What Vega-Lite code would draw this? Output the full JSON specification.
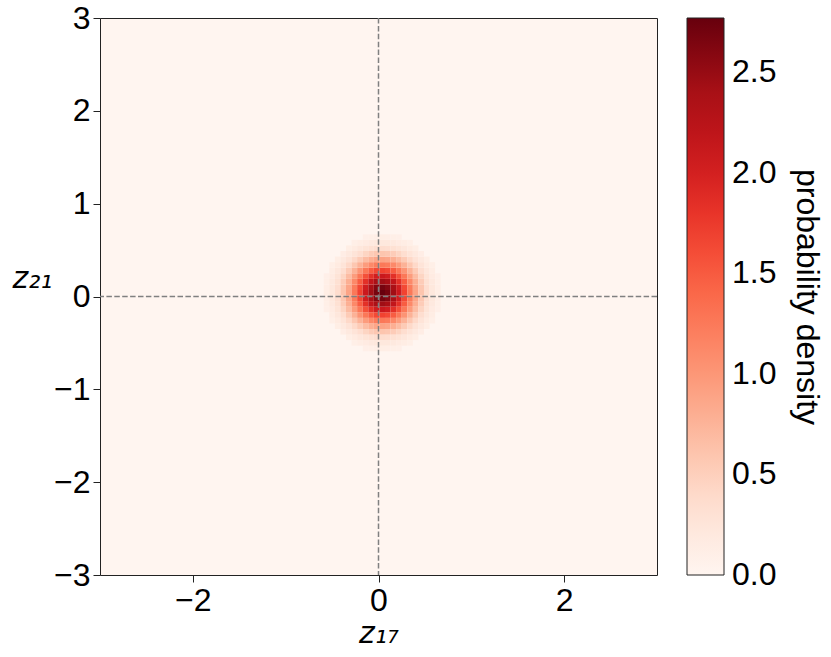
{
  "$schema": "https://vega.github.io/schema/vega-lite/v6.json",
  "width": 557,
  "height": 557,
  "autosize": {"type": "none"},
  "padding": {"left": 100, "top": 18, "right": 174, "bottom": 82},
  "background": "white",
  "config": {
    "font": "Liberation Sans",
    "view": {"fill": "#fff5f0", "stroke": "#222222", "strokeWidth": 1},
    "axis": {
      "grid": false,
      "domain": false,
      "labelFontSize": 32,
      "labelColor": "black",
      "tickColor": "#222222",
      "tickSize": 7,
      "tickWidth": 1,
      "labelPadding": 3,
      "titleFont": "DejaVu Sans",
      "titleFontSize": 30,
      "titleFontWeight": "normal",
      "titleFontStyle": "italic",
      "titleColor": "black"
    }
  },
  "layer": [
    {
      "data": {"values": [
{"x0":-0.59,"x1":-0.53,"y0":-0.17,"y1":-0.11,"d":0.092},
{"x0":-0.59,"x1":-0.53,"y0":-0.11,"y1":-0.05,"d":0.107},
{"x0":-0.59,"x1":-0.53,"y0":-0.05,"y1":0.01,"d":0.118},
{"x0":-0.59,"x1":-0.53,"y0":0.01,"y1":0.07,"d":0.122},
{"x0":-0.59,"x1":-0.53,"y0":0.07,"y1":0.13,"d":0.118},
{"x0":-0.59,"x1":-0.53,"y0":0.13,"y1":0.19,"d":0.107},
{"x0":-0.59,"x1":-0.53,"y0":0.19,"y1":0.25,"d":0.092},
{"x0":-0.53,"x1":-0.47,"y0":-0.29,"y1":-0.23,"d":0.101},
{"x0":-0.53,"x1":-0.47,"y0":-0.23,"y1":-0.17,"d":0.134},
{"x0":-0.53,"x1":-0.47,"y0":-0.17,"y1":-0.11,"d":0.166},
{"x0":-0.53,"x1":-0.47,"y0":-0.11,"y1":-0.05,"d":0.195},
{"x0":-0.53,"x1":-0.47,"y0":-0.05,"y1":0.01,"d":0.214},
{"x0":-0.53,"x1":-0.47,"y0":0.01,"y1":0.07,"d":0.220},
{"x0":-0.53,"x1":-0.47,"y0":0.07,"y1":0.13,"d":0.214},
{"x0":-0.53,"x1":-0.47,"y0":0.13,"y1":0.19,"d":0.195},
{"x0":-0.53,"x1":-0.47,"y0":0.19,"y1":0.25,"d":0.166},
{"x0":-0.53,"x1":-0.47,"y0":0.25,"y1":0.31,"d":0.134},
{"x0":-0.53,"x1":-0.47,"y0":0.31,"y1":0.37,"d":0.101},
{"x0":-0.47,"x1":-0.41,"y0":-0.35,"y1":-0.29,"d":0.122},
{"x0":-0.47,"x1":-0.41,"y0":-0.29,"y1":-0.23,"d":0.172},
{"x0":-0.47,"x1":-0.41,"y0":-0.23,"y1":-0.17,"d":0.227},
{"x0":-0.47,"x1":-0.41,"y0":-0.17,"y1":-0.11,"d":0.283},
{"x0":-0.47,"x1":-0.41,"y0":-0.11,"y1":-0.05,"d":0.331},
{"x0":-0.47,"x1":-0.41,"y0":-0.05,"y1":0.01,"d":0.363},
{"x0":-0.47,"x1":-0.41,"y0":0.01,"y1":0.07,"d":0.375},
{"x0":-0.47,"x1":-0.41,"y0":0.07,"y1":0.13,"d":0.363},
{"x0":-0.47,"x1":-0.41,"y0":0.13,"y1":0.19,"d":0.331},
{"x0":-0.47,"x1":-0.41,"y0":0.19,"y1":0.25,"d":0.283},
{"x0":-0.47,"x1":-0.41,"y0":0.25,"y1":0.31,"d":0.227},
{"x0":-0.47,"x1":-0.41,"y0":0.31,"y1":0.37,"d":0.172},
{"x0":-0.47,"x1":-0.41,"y0":0.37,"y1":0.43,"d":0.122},
{"x0":-0.41,"x1":-0.35,"y0":-0.41,"y1":-0.35,"d":0.130},
{"x0":-0.41,"x1":-0.35,"y0":-0.35,"y1":-0.29,"d":0.194},
{"x0":-0.41,"x1":-0.35,"y0":-0.29,"y1":-0.23,"d":0.274},
{"x0":-0.41,"x1":-0.35,"y0":-0.23,"y1":-0.17,"d":0.363},
{"x0":-0.41,"x1":-0.35,"y0":-0.17,"y1":-0.11,"d":0.452},
{"x0":-0.41,"x1":-0.35,"y0":-0.11,"y1":-0.05,"d":0.529},
{"x0":-0.41,"x1":-0.35,"y0":-0.05,"y1":0.01,"d":0.581},
{"x0":-0.41,"x1":-0.35,"y0":0.01,"y1":0.07,"d":0.599},
{"x0":-0.41,"x1":-0.35,"y0":0.07,"y1":0.13,"d":0.581},
{"x0":-0.41,"x1":-0.35,"y0":0.13,"y1":0.19,"d":0.529},
{"x0":-0.41,"x1":-0.35,"y0":0.19,"y1":0.25,"d":0.452},
{"x0":-0.41,"x1":-0.35,"y0":0.25,"y1":0.31,"d":0.363},
{"x0":-0.41,"x1":-0.35,"y0":0.31,"y1":0.37,"d":0.274},
{"x0":-0.41,"x1":-0.35,"y0":0.37,"y1":0.43,"d":0.194},
{"x0":-0.41,"x1":-0.35,"y0":0.43,"y1":0.49,"d":0.130},
{"x0":-0.35,"x1":-0.29,"y0":-0.47,"y1":-0.41,"d":0.122},
{"x0":-0.35,"x1":-0.29,"y0":-0.41,"y1":-0.35,"d":0.194},
{"x0":-0.35,"x1":-0.29,"y0":-0.35,"y1":-0.29,"d":0.292},
{"x0":-0.35,"x1":-0.29,"y0":-0.29,"y1":-0.23,"d":0.412},
{"x0":-0.35,"x1":-0.29,"y0":-0.23,"y1":-0.17,"d":0.545},
{"x0":-0.35,"x1":-0.29,"y0":-0.17,"y1":-0.11,"d":0.679},
{"x0":-0.35,"x1":-0.29,"y0":-0.11,"y1":-0.05,"d":0.794},
{"x0":-0.35,"x1":-0.29,"y0":-0.05,"y1":0.01,"d":0.872},
{"x0":-0.35,"x1":-0.29,"y0":0.01,"y1":0.07,"d":0.899},
{"x0":-0.35,"x1":-0.29,"y0":0.07,"y1":0.13,"d":0.872},
{"x0":-0.35,"x1":-0.29,"y0":0.13,"y1":0.19,"d":0.794},
{"x0":-0.35,"x1":-0.29,"y0":0.19,"y1":0.25,"d":0.679},
{"x0":-0.35,"x1":-0.29,"y0":0.25,"y1":0.31,"d":0.545},
{"x0":-0.35,"x1":-0.29,"y0":0.31,"y1":0.37,"d":0.412},
{"x0":-0.35,"x1":-0.29,"y0":0.37,"y1":0.43,"d":0.292},
{"x0":-0.35,"x1":-0.29,"y0":0.43,"y1":0.49,"d":0.194},
{"x0":-0.35,"x1":-0.29,"y0":0.49,"y1":0.55,"d":0.122},
{"x0":-0.29,"x1":-0.23,"y0":-0.53,"y1":-0.47,"d":0.101},
{"x0":-0.29,"x1":-0.23,"y0":-0.47,"y1":-0.41,"d":0.172},
{"x0":-0.29,"x1":-0.23,"y0":-0.41,"y1":-0.35,"d":0.274},
{"x0":-0.29,"x1":-0.23,"y0":-0.35,"y1":-0.29,"d":0.412},
{"x0":-0.29,"x1":-0.23,"y0":-0.29,"y1":-0.23,"d":0.580},
{"x0":-0.29,"x1":-0.23,"y0":-0.23,"y1":-0.17,"d":0.769},
{"x0":-0.29,"x1":-0.23,"y0":-0.17,"y1":-0.11,"d":0.957},
{"x0":-0.29,"x1":-0.23,"y0":-0.11,"y1":-0.05,"d":1.119},
{"x0":-0.29,"x1":-0.23,"y0":-0.05,"y1":0.01,"d":1.229},
{"x0":-0.29,"x1":-0.23,"y0":0.01,"y1":0.07,"d":1.268},
{"x0":-0.29,"x1":-0.23,"y0":0.07,"y1":0.13,"d":1.229},
{"x0":-0.29,"x1":-0.23,"y0":0.13,"y1":0.19,"d":1.119},
{"x0":-0.29,"x1":-0.23,"y0":0.19,"y1":0.25,"d":0.957},
{"x0":-0.29,"x1":-0.23,"y0":0.25,"y1":0.31,"d":0.769},
{"x0":-0.29,"x1":-0.23,"y0":0.31,"y1":0.37,"d":0.580},
{"x0":-0.29,"x1":-0.23,"y0":0.37,"y1":0.43,"d":0.412},
{"x0":-0.29,"x1":-0.23,"y0":0.43,"y1":0.49,"d":0.274},
{"x0":-0.29,"x1":-0.23,"y0":0.49,"y1":0.55,"d":0.172},
{"x0":-0.29,"x1":-0.23,"y0":0.55,"y1":0.61,"d":0.101},
{"x0":-0.23,"x1":-0.17,"y0":-0.53,"y1":-0.47,"d":0.134},
{"x0":-0.23,"x1":-0.17,"y0":-0.47,"y1":-0.41,"d":0.227},
{"x0":-0.23,"x1":-0.17,"y0":-0.41,"y1":-0.35,"d":0.363},
{"x0":-0.23,"x1":-0.17,"y0":-0.35,"y1":-0.29,"d":0.545},
{"x0":-0.23,"x1":-0.17,"y0":-0.29,"y1":-0.23,"d":0.769},
{"x0":-0.23,"x1":-0.17,"y0":-0.23,"y1":-0.17,"d":1.019},
{"x0":-0.23,"x1":-0.17,"y0":-0.17,"y1":-0.11,"d":1.268},
{"x0":-0.23,"x1":-0.17,"y0":-0.11,"y1":-0.05,"d":1.483},
{"x0":-0.23,"x1":-0.17,"y0":-0.05,"y1":0.01,"d":1.628},
{"x0":-0.23,"x1":-0.17,"y0":0.01,"y1":0.07,"d":1.680},
{"x0":-0.23,"x1":-0.17,"y0":0.07,"y1":0.13,"d":1.628},
{"x0":-0.23,"x1":-0.17,"y0":0.13,"y1":0.19,"d":1.483},
{"x0":-0.23,"x1":-0.17,"y0":0.19,"y1":0.25,"d":1.268},
{"x0":-0.23,"x1":-0.17,"y0":0.25,"y1":0.31,"d":1.019},
{"x0":-0.23,"x1":-0.17,"y0":0.31,"y1":0.37,"d":0.769},
{"x0":-0.23,"x1":-0.17,"y0":0.37,"y1":0.43,"d":0.545},
{"x0":-0.23,"x1":-0.17,"y0":0.43,"y1":0.49,"d":0.363},
{"x0":-0.23,"x1":-0.17,"y0":0.49,"y1":0.55,"d":0.227},
{"x0":-0.23,"x1":-0.17,"y0":0.55,"y1":0.61,"d":0.134},
{"x0":-0.17,"x1":-0.11,"y0":-0.59,"y1":-0.53,"d":0.092},
{"x0":-0.17,"x1":-0.11,"y0":-0.53,"y1":-0.47,"d":0.166},
{"x0":-0.17,"x1":-0.11,"y0":-0.47,"y1":-0.41,"d":0.283},
{"x0":-0.17,"x1":-0.11,"y0":-0.41,"y1":-0.35,"d":0.452},
{"x0":-0.17,"x1":-0.11,"y0":-0.35,"y1":-0.29,"d":0.679},
{"x0":-0.17,"x1":-0.11,"y0":-0.29,"y1":-0.23,"d":0.957},
{"x0":-0.17,"x1":-0.11,"y0":-0.23,"y1":-0.17,"d":1.268},
{"x0":-0.17,"x1":-0.11,"y0":-0.17,"y1":-0.11,"d":1.578},
{"x0":-0.17,"x1":-0.11,"y0":-0.11,"y1":-0.05,"d":1.845},
{"x0":-0.17,"x1":-0.11,"y0":-0.05,"y1":0.01,"d":2.027},
{"x0":-0.17,"x1":-0.11,"y0":0.01,"y1":0.07,"d":2.091},
{"x0":-0.17,"x1":-0.11,"y0":0.07,"y1":0.13,"d":2.027},
{"x0":-0.17,"x1":-0.11,"y0":0.13,"y1":0.19,"d":1.845},
{"x0":-0.17,"x1":-0.11,"y0":0.19,"y1":0.25,"d":1.578},
{"x0":-0.17,"x1":-0.11,"y0":0.25,"y1":0.31,"d":1.268},
{"x0":-0.17,"x1":-0.11,"y0":0.31,"y1":0.37,"d":0.957},
{"x0":-0.17,"x1":-0.11,"y0":0.37,"y1":0.43,"d":0.679},
{"x0":-0.17,"x1":-0.11,"y0":0.43,"y1":0.49,"d":0.452},
{"x0":-0.17,"x1":-0.11,"y0":0.49,"y1":0.55,"d":0.283},
{"x0":-0.17,"x1":-0.11,"y0":0.55,"y1":0.61,"d":0.166},
{"x0":-0.17,"x1":-0.11,"y0":0.61,"y1":0.67,"d":0.092},
{"x0":-0.11,"x1":-0.05,"y0":-0.59,"y1":-0.53,"d":0.107},
{"x0":-0.11,"x1":-0.05,"y0":-0.53,"y1":-0.47,"d":0.195},
{"x0":-0.11,"x1":-0.05,"y0":-0.47,"y1":-0.41,"d":0.331},
{"x0":-0.11,"x1":-0.05,"y0":-0.41,"y1":-0.35,"d":0.529},
{"x0":-0.11,"x1":-0.05,"y0":-0.35,"y1":-0.29,"d":0.794},
{"x0":-0.11,"x1":-0.05,"y0":-0.29,"y1":-0.23,"d":1.119},
{"x0":-0.11,"x1":-0.05,"y0":-0.23,"y1":-0.17,"d":1.483},
{"x0":-0.11,"x1":-0.05,"y0":-0.17,"y1":-0.11,"d":1.845},
{"x0":-0.11,"x1":-0.05,"y0":-0.11,"y1":-0.05,"d":2.158},
{"x0":-0.11,"x1":-0.05,"y0":-0.05,"y1":0.01,"d":2.370},
{"x0":-0.11,"x1":-0.05,"y0":0.01,"y1":0.07,"d":2.445},
{"x0":-0.11,"x1":-0.05,"y0":0.07,"y1":0.13,"d":2.370},
{"x0":-0.11,"x1":-0.05,"y0":0.13,"y1":0.19,"d":2.158},
{"x0":-0.11,"x1":-0.05,"y0":0.19,"y1":0.25,"d":1.845},
{"x0":-0.11,"x1":-0.05,"y0":0.25,"y1":0.31,"d":1.483},
{"x0":-0.11,"x1":-0.05,"y0":0.31,"y1":0.37,"d":1.119},
{"x0":-0.11,"x1":-0.05,"y0":0.37,"y1":0.43,"d":0.794},
{"x0":-0.11,"x1":-0.05,"y0":0.43,"y1":0.49,"d":0.529},
{"x0":-0.11,"x1":-0.05,"y0":0.49,"y1":0.55,"d":0.331},
{"x0":-0.11,"x1":-0.05,"y0":0.55,"y1":0.61,"d":0.195},
{"x0":-0.11,"x1":-0.05,"y0":0.61,"y1":0.67,"d":0.107},
{"x0":-0.05,"x1":0.01,"y0":-0.59,"y1":-0.53,"d":0.118},
{"x0":-0.05,"x1":0.01,"y0":-0.53,"y1":-0.47,"d":0.214},
{"x0":-0.05,"x1":0.01,"y0":-0.47,"y1":-0.41,"d":0.363},
{"x0":-0.05,"x1":0.01,"y0":-0.41,"y1":-0.35,"d":0.581},
{"x0":-0.05,"x1":0.01,"y0":-0.35,"y1":-0.29,"d":0.872},
{"x0":-0.05,"x1":0.01,"y0":-0.29,"y1":-0.23,"d":1.229},
{"x0":-0.05,"x1":0.01,"y0":-0.23,"y1":-0.17,"d":1.628},
{"x0":-0.05,"x1":0.01,"y0":-0.17,"y1":-0.11,"d":2.027},
{"x0":-0.05,"x1":0.01,"y0":-0.11,"y1":-0.05,"d":2.370},
{"x0":-0.05,"x1":0.01,"y0":-0.05,"y1":0.01,"d":2.602},
{"x0":-0.05,"x1":0.01,"y0":0.01,"y1":0.07,"d":2.685},
{"x0":-0.05,"x1":0.01,"y0":0.07,"y1":0.13,"d":2.602},
{"x0":-0.05,"x1":0.01,"y0":0.13,"y1":0.19,"d":2.370},
{"x0":-0.05,"x1":0.01,"y0":0.19,"y1":0.25,"d":2.027},
{"x0":-0.05,"x1":0.01,"y0":0.25,"y1":0.31,"d":1.628},
{"x0":-0.05,"x1":0.01,"y0":0.31,"y1":0.37,"d":1.229},
{"x0":-0.05,"x1":0.01,"y0":0.37,"y1":0.43,"d":0.872},
{"x0":-0.05,"x1":0.01,"y0":0.43,"y1":0.49,"d":0.581},
{"x0":-0.05,"x1":0.01,"y0":0.49,"y1":0.55,"d":0.363},
{"x0":-0.05,"x1":0.01,"y0":0.55,"y1":0.61,"d":0.214},
{"x0":-0.05,"x1":0.01,"y0":0.61,"y1":0.67,"d":0.118},
{"x0":0.01,"x1":0.07,"y0":-0.59,"y1":-0.53,"d":0.122},
{"x0":0.01,"x1":0.07,"y0":-0.53,"y1":-0.47,"d":0.220},
{"x0":0.01,"x1":0.07,"y0":-0.47,"y1":-0.41,"d":0.375},
{"x0":0.01,"x1":0.07,"y0":-0.41,"y1":-0.35,"d":0.599},
{"x0":0.01,"x1":0.07,"y0":-0.35,"y1":-0.29,"d":0.899},
{"x0":0.01,"x1":0.07,"y0":-0.29,"y1":-0.23,"d":1.268},
{"x0":0.01,"x1":0.07,"y0":-0.23,"y1":-0.17,"d":1.680},
{"x0":0.01,"x1":0.07,"y0":-0.17,"y1":-0.11,"d":2.091},
{"x0":0.01,"x1":0.07,"y0":-0.11,"y1":-0.05,"d":2.445},
{"x0":0.01,"x1":0.07,"y0":-0.05,"y1":0.01,"d":2.685},
{"x0":0.01,"x1":0.07,"y0":0.01,"y1":0.07,"d":2.770},
{"x0":0.01,"x1":0.07,"y0":0.07,"y1":0.13,"d":2.685},
{"x0":0.01,"x1":0.07,"y0":0.13,"y1":0.19,"d":2.445},
{"x0":0.01,"x1":0.07,"y0":0.19,"y1":0.25,"d":2.091},
{"x0":0.01,"x1":0.07,"y0":0.25,"y1":0.31,"d":1.680},
{"x0":0.01,"x1":0.07,"y0":0.31,"y1":0.37,"d":1.268},
{"x0":0.01,"x1":0.07,"y0":0.37,"y1":0.43,"d":0.899},
{"x0":0.01,"x1":0.07,"y0":0.43,"y1":0.49,"d":0.599},
{"x0":0.01,"x1":0.07,"y0":0.49,"y1":0.55,"d":0.375},
{"x0":0.01,"x1":0.07,"y0":0.55,"y1":0.61,"d":0.220},
{"x0":0.01,"x1":0.07,"y0":0.61,"y1":0.67,"d":0.122},
{"x0":0.07,"x1":0.13,"y0":-0.59,"y1":-0.53,"d":0.118},
{"x0":0.07,"x1":0.13,"y0":-0.53,"y1":-0.47,"d":0.214},
{"x0":0.07,"x1":0.13,"y0":-0.47,"y1":-0.41,"d":0.363},
{"x0":0.07,"x1":0.13,"y0":-0.41,"y1":-0.35,"d":0.581},
{"x0":0.07,"x1":0.13,"y0":-0.35,"y1":-0.29,"d":0.872},
{"x0":0.07,"x1":0.13,"y0":-0.29,"y1":-0.23,"d":1.229},
{"x0":0.07,"x1":0.13,"y0":-0.23,"y1":-0.17,"d":1.628},
{"x0":0.07,"x1":0.13,"y0":-0.17,"y1":-0.11,"d":2.027},
{"x0":0.07,"x1":0.13,"y0":-0.11,"y1":-0.05,"d":2.370},
{"x0":0.07,"x1":0.13,"y0":-0.05,"y1":0.01,"d":2.602},
{"x0":0.07,"x1":0.13,"y0":0.01,"y1":0.07,"d":2.685},
{"x0":0.07,"x1":0.13,"y0":0.07,"y1":0.13,"d":2.602},
{"x0":0.07,"x1":0.13,"y0":0.13,"y1":0.19,"d":2.370},
{"x0":0.07,"x1":0.13,"y0":0.19,"y1":0.25,"d":2.027},
{"x0":0.07,"x1":0.13,"y0":0.25,"y1":0.31,"d":1.628},
{"x0":0.07,"x1":0.13,"y0":0.31,"y1":0.37,"d":1.229},
{"x0":0.07,"x1":0.13,"y0":0.37,"y1":0.43,"d":0.872},
{"x0":0.07,"x1":0.13,"y0":0.43,"y1":0.49,"d":0.581},
{"x0":0.07,"x1":0.13,"y0":0.49,"y1":0.55,"d":0.363},
{"x0":0.07,"x1":0.13,"y0":0.55,"y1":0.61,"d":0.214},
{"x0":0.07,"x1":0.13,"y0":0.61,"y1":0.67,"d":0.118},
{"x0":0.13,"x1":0.19,"y0":-0.59,"y1":-0.53,"d":0.107},
{"x0":0.13,"x1":0.19,"y0":-0.53,"y1":-0.47,"d":0.195},
{"x0":0.13,"x1":0.19,"y0":-0.47,"y1":-0.41,"d":0.331},
{"x0":0.13,"x1":0.19,"y0":-0.41,"y1":-0.35,"d":0.529},
{"x0":0.13,"x1":0.19,"y0":-0.35,"y1":-0.29,"d":0.794},
{"x0":0.13,"x1":0.19,"y0":-0.29,"y1":-0.23,"d":1.119},
{"x0":0.13,"x1":0.19,"y0":-0.23,"y1":-0.17,"d":1.483},
{"x0":0.13,"x1":0.19,"y0":-0.17,"y1":-0.11,"d":1.845},
{"x0":0.13,"x1":0.19,"y0":-0.11,"y1":-0.05,"d":2.158},
{"x0":0.13,"x1":0.19,"y0":-0.05,"y1":0.01,"d":2.370},
{"x0":0.13,"x1":0.19,"y0":0.01,"y1":0.07,"d":2.445},
{"x0":0.13,"x1":0.19,"y0":0.07,"y1":0.13,"d":2.370},
{"x0":0.13,"x1":0.19,"y0":0.13,"y1":0.19,"d":2.158},
{"x0":0.13,"x1":0.19,"y0":0.19,"y1":0.25,"d":1.845},
{"x0":0.13,"x1":0.19,"y0":0.25,"y1":0.31,"d":1.483},
{"x0":0.13,"x1":0.19,"y0":0.31,"y1":0.37,"d":1.119},
{"x0":0.13,"x1":0.19,"y0":0.37,"y1":0.43,"d":0.794},
{"x0":0.13,"x1":0.19,"y0":0.43,"y1":0.49,"d":0.529},
{"x0":0.13,"x1":0.19,"y0":0.49,"y1":0.55,"d":0.331},
{"x0":0.13,"x1":0.19,"y0":0.55,"y1":0.61,"d":0.195},
{"x0":0.13,"x1":0.19,"y0":0.61,"y1":0.67,"d":0.107},
{"x0":0.19,"x1":0.25,"y0":-0.59,"y1":-0.53,"d":0.092},
{"x0":0.19,"x1":0.25,"y0":-0.53,"y1":-0.47,"d":0.166},
{"x0":0.19,"x1":0.25,"y0":-0.47,"y1":-0.41,"d":0.283},
{"x0":0.19,"x1":0.25,"y0":-0.41,"y1":-0.35,"d":0.452},
{"x0":0.19,"x1":0.25,"y0":-0.35,"y1":-0.29,"d":0.679},
{"x0":0.19,"x1":0.25,"y0":-0.29,"y1":-0.23,"d":0.957},
{"x0":0.19,"x1":0.25,"y0":-0.23,"y1":-0.17,"d":1.268},
{"x0":0.19,"x1":0.25,"y0":-0.17,"y1":-0.11,"d":1.578},
{"x0":0.19,"x1":0.25,"y0":-0.11,"y1":-0.05,"d":1.845},
{"x0":0.19,"x1":0.25,"y0":-0.05,"y1":0.01,"d":2.027},
{"x0":0.19,"x1":0.25,"y0":0.01,"y1":0.07,"d":2.091},
{"x0":0.19,"x1":0.25,"y0":0.07,"y1":0.13,"d":2.027},
{"x0":0.19,"x1":0.25,"y0":0.13,"y1":0.19,"d":1.845},
{"x0":0.19,"x1":0.25,"y0":0.19,"y1":0.25,"d":1.578},
{"x0":0.19,"x1":0.25,"y0":0.25,"y1":0.31,"d":1.268},
{"x0":0.19,"x1":0.25,"y0":0.31,"y1":0.37,"d":0.957},
{"x0":0.19,"x1":0.25,"y0":0.37,"y1":0.43,"d":0.679},
{"x0":0.19,"x1":0.25,"y0":0.43,"y1":0.49,"d":0.452},
{"x0":0.19,"x1":0.25,"y0":0.49,"y1":0.55,"d":0.283},
{"x0":0.19,"x1":0.25,"y0":0.55,"y1":0.61,"d":0.166},
{"x0":0.19,"x1":0.25,"y0":0.61,"y1":0.67,"d":0.092},
{"x0":0.25,"x1":0.31,"y0":-0.53,"y1":-0.47,"d":0.134},
{"x0":0.25,"x1":0.31,"y0":-0.47,"y1":-0.41,"d":0.227},
{"x0":0.25,"x1":0.31,"y0":-0.41,"y1":-0.35,"d":0.363},
{"x0":0.25,"x1":0.31,"y0":-0.35,"y1":-0.29,"d":0.545},
{"x0":0.25,"x1":0.31,"y0":-0.29,"y1":-0.23,"d":0.769},
{"x0":0.25,"x1":0.31,"y0":-0.23,"y1":-0.17,"d":1.019},
{"x0":0.25,"x1":0.31,"y0":-0.17,"y1":-0.11,"d":1.268},
{"x0":0.25,"x1":0.31,"y0":-0.11,"y1":-0.05,"d":1.483},
{"x0":0.25,"x1":0.31,"y0":-0.05,"y1":0.01,"d":1.628},
{"x0":0.25,"x1":0.31,"y0":0.01,"y1":0.07,"d":1.680},
{"x0":0.25,"x1":0.31,"y0":0.07,"y1":0.13,"d":1.628},
{"x0":0.25,"x1":0.31,"y0":0.13,"y1":0.19,"d":1.483},
{"x0":0.25,"x1":0.31,"y0":0.19,"y1":0.25,"d":1.268},
{"x0":0.25,"x1":0.31,"y0":0.25,"y1":0.31,"d":1.019},
{"x0":0.25,"x1":0.31,"y0":0.31,"y1":0.37,"d":0.769},
{"x0":0.25,"x1":0.31,"y0":0.37,"y1":0.43,"d":0.545},
{"x0":0.25,"x1":0.31,"y0":0.43,"y1":0.49,"d":0.363},
{"x0":0.25,"x1":0.31,"y0":0.49,"y1":0.55,"d":0.227},
{"x0":0.25,"x1":0.31,"y0":0.55,"y1":0.61,"d":0.134},
{"x0":0.31,"x1":0.37,"y0":-0.53,"y1":-0.47,"d":0.101},
{"x0":0.31,"x1":0.37,"y0":-0.47,"y1":-0.41,"d":0.172},
{"x0":0.31,"x1":0.37,"y0":-0.41,"y1":-0.35,"d":0.274},
{"x0":0.31,"x1":0.37,"y0":-0.35,"y1":-0.29,"d":0.412},
{"x0":0.31,"x1":0.37,"y0":-0.29,"y1":-0.23,"d":0.580},
{"x0":0.31,"x1":0.37,"y0":-0.23,"y1":-0.17,"d":0.769},
{"x0":0.31,"x1":0.37,"y0":-0.17,"y1":-0.11,"d":0.957},
{"x0":0.31,"x1":0.37,"y0":-0.11,"y1":-0.05,"d":1.119},
{"x0":0.31,"x1":0.37,"y0":-0.05,"y1":0.01,"d":1.229},
{"x0":0.31,"x1":0.37,"y0":0.01,"y1":0.07,"d":1.268},
{"x0":0.31,"x1":0.37,"y0":0.07,"y1":0.13,"d":1.229},
{"x0":0.31,"x1":0.37,"y0":0.13,"y1":0.19,"d":1.119},
{"x0":0.31,"x1":0.37,"y0":0.19,"y1":0.25,"d":0.957},
{"x0":0.31,"x1":0.37,"y0":0.25,"y1":0.31,"d":0.769},
{"x0":0.31,"x1":0.37,"y0":0.31,"y1":0.37,"d":0.580},
{"x0":0.31,"x1":0.37,"y0":0.37,"y1":0.43,"d":0.412},
{"x0":0.31,"x1":0.37,"y0":0.43,"y1":0.49,"d":0.274},
{"x0":0.31,"x1":0.37,"y0":0.49,"y1":0.55,"d":0.172},
{"x0":0.31,"x1":0.37,"y0":0.55,"y1":0.61,"d":0.101},
{"x0":0.37,"x1":0.43,"y0":-0.47,"y1":-0.41,"d":0.122},
{"x0":0.37,"x1":0.43,"y0":-0.41,"y1":-0.35,"d":0.194},
{"x0":0.37,"x1":0.43,"y0":-0.35,"y1":-0.29,"d":0.292},
{"x0":0.37,"x1":0.43,"y0":-0.29,"y1":-0.23,"d":0.412},
{"x0":0.37,"x1":0.43,"y0":-0.23,"y1":-0.17,"d":0.545},
{"x0":0.37,"x1":0.43,"y0":-0.17,"y1":-0.11,"d":0.679},
{"x0":0.37,"x1":0.43,"y0":-0.11,"y1":-0.05,"d":0.794},
{"x0":0.37,"x1":0.43,"y0":-0.05,"y1":0.01,"d":0.872},
{"x0":0.37,"x1":0.43,"y0":0.01,"y1":0.07,"d":0.899},
{"x0":0.37,"x1":0.43,"y0":0.07,"y1":0.13,"d":0.872},
{"x0":0.37,"x1":0.43,"y0":0.13,"y1":0.19,"d":0.794},
{"x0":0.37,"x1":0.43,"y0":0.19,"y1":0.25,"d":0.679},
{"x0":0.37,"x1":0.43,"y0":0.25,"y1":0.31,"d":0.545},
{"x0":0.37,"x1":0.43,"y0":0.31,"y1":0.37,"d":0.412},
{"x0":0.37,"x1":0.43,"y0":0.37,"y1":0.43,"d":0.292},
{"x0":0.37,"x1":0.43,"y0":0.43,"y1":0.49,"d":0.194},
{"x0":0.37,"x1":0.43,"y0":0.49,"y1":0.55,"d":0.122},
{"x0":0.43,"x1":0.49,"y0":-0.41,"y1":-0.35,"d":0.130},
{"x0":0.43,"x1":0.49,"y0":-0.35,"y1":-0.29,"d":0.194},
{"x0":0.43,"x1":0.49,"y0":-0.29,"y1":-0.23,"d":0.274},
{"x0":0.43,"x1":0.49,"y0":-0.23,"y1":-0.17,"d":0.363},
{"x0":0.43,"x1":0.49,"y0":-0.17,"y1":-0.11,"d":0.452},
{"x0":0.43,"x1":0.49,"y0":-0.11,"y1":-0.05,"d":0.529},
{"x0":0.43,"x1":0.49,"y0":-0.05,"y1":0.01,"d":0.581},
{"x0":0.43,"x1":0.49,"y0":0.01,"y1":0.07,"d":0.599},
{"x0":0.43,"x1":0.49,"y0":0.07,"y1":0.13,"d":0.581},
{"x0":0.43,"x1":0.49,"y0":0.13,"y1":0.19,"d":0.529},
{"x0":0.43,"x1":0.49,"y0":0.19,"y1":0.25,"d":0.452},
{"x0":0.43,"x1":0.49,"y0":0.25,"y1":0.31,"d":0.363},
{"x0":0.43,"x1":0.49,"y0":0.31,"y1":0.37,"d":0.274},
{"x0":0.43,"x1":0.49,"y0":0.37,"y1":0.43,"d":0.194},
{"x0":0.43,"x1":0.49,"y0":0.43,"y1":0.49,"d":0.130},
{"x0":0.49,"x1":0.55,"y0":-0.35,"y1":-0.29,"d":0.122},
{"x0":0.49,"x1":0.55,"y0":-0.29,"y1":-0.23,"d":0.172},
{"x0":0.49,"x1":0.55,"y0":-0.23,"y1":-0.17,"d":0.227},
{"x0":0.49,"x1":0.55,"y0":-0.17,"y1":-0.11,"d":0.283},
{"x0":0.49,"x1":0.55,"y0":-0.11,"y1":-0.05,"d":0.331},
{"x0":0.49,"x1":0.55,"y0":-0.05,"y1":0.01,"d":0.363},
{"x0":0.49,"x1":0.55,"y0":0.01,"y1":0.07,"d":0.375},
{"x0":0.49,"x1":0.55,"y0":0.07,"y1":0.13,"d":0.363},
{"x0":0.49,"x1":0.55,"y0":0.13,"y1":0.19,"d":0.331},
{"x0":0.49,"x1":0.55,"y0":0.19,"y1":0.25,"d":0.283},
{"x0":0.49,"x1":0.55,"y0":0.25,"y1":0.31,"d":0.227},
{"x0":0.49,"x1":0.55,"y0":0.31,"y1":0.37,"d":0.172},
{"x0":0.49,"x1":0.55,"y0":0.37,"y1":0.43,"d":0.122},
{"x0":0.55,"x1":0.61,"y0":-0.29,"y1":-0.23,"d":0.101},
{"x0":0.55,"x1":0.61,"y0":-0.23,"y1":-0.17,"d":0.134},
{"x0":0.55,"x1":0.61,"y0":-0.17,"y1":-0.11,"d":0.166},
{"x0":0.55,"x1":0.61,"y0":-0.11,"y1":-0.05,"d":0.195},
{"x0":0.55,"x1":0.61,"y0":-0.05,"y1":0.01,"d":0.214},
{"x0":0.55,"x1":0.61,"y0":0.01,"y1":0.07,"d":0.220},
{"x0":0.55,"x1":0.61,"y0":0.07,"y1":0.13,"d":0.214},
{"x0":0.55,"x1":0.61,"y0":0.13,"y1":0.19,"d":0.195},
{"x0":0.55,"x1":0.61,"y0":0.19,"y1":0.25,"d":0.166},
{"x0":0.55,"x1":0.61,"y0":0.25,"y1":0.31,"d":0.134},
{"x0":0.55,"x1":0.61,"y0":0.31,"y1":0.37,"d":0.101},
{"x0":0.61,"x1":0.67,"y0":-0.17,"y1":-0.11,"d":0.092},
{"x0":0.61,"x1":0.67,"y0":-0.11,"y1":-0.05,"d":0.107},
{"x0":0.61,"x1":0.67,"y0":-0.05,"y1":0.01,"d":0.118},
{"x0":0.61,"x1":0.67,"y0":0.01,"y1":0.07,"d":0.122},
{"x0":0.61,"x1":0.67,"y0":0.07,"y1":0.13,"d":0.118},
{"x0":0.61,"x1":0.67,"y0":0.13,"y1":0.19,"d":0.107},
{"x0":0.61,"x1":0.67,"y0":0.19,"y1":0.25,"d":0.092}
      ]},
      "mark": {"type": "rect"},
      "encoding": {
        "x": {"field": "x0", "type": "quantitative",
              "scale": {"domain": [-3, 3], "nice": false, "zero": false},
              "axis": {"values": [-2, 0, 2], "format": "d", "title": "z₁₇",
                       "titleX": 278.5, "titleY": 67, "titleAlign": "center", "titleBaseline": "alphabetic"}},
        "x2": {"field": "x1"},
        "y": {"field": "y0", "type": "quantitative",
              "scale": {"domain": [-3, 3], "nice": false, "zero": false},
              "axis": {"values": [-3, -2, -1, 0, 1, 2, 3], "format": "d", "title": "z₂₁",
                       "titleAngle": 0, "titleX": -68, "titleY": 269, "titleAlign": "center", "titleBaseline": "alphabetic"}},
        "y2": {"field": "y1"},
        "color": {"field": "d", "type": "quantitative",
                  "scale": {"domain": [0, 0.346, 0.693, 1.039, 1.385, 1.731, 2.078, 2.424, 2.77],
                            "range": ["#fff5f0", "#fee0d2", "#fcbba1", "#fc9272", "#fb6a4a", "#ef3b2c", "#cb181d", "#a50f15", "#67000d"],
                            "interpolate": "rgb"},
                  "legend": {"orient": "none", "legendX": 587, "legendY": 0, "direction": "vertical",
                             "gradientLength": 557, "gradientThickness": 37,
                             "gradientStrokeColor": "#222222", "gradientStrokeWidth": 1,
                             "values": [0, 0.5, 1, 1.5, 2, 2.5], "format": ".1f",
                             "labelFontSize": 32, "labelColor": "black", "labelOverlap": false, "labelOffset": 8,
                             "labelBaseline": "middle",
                             "encode": {"labels": {"update": {"baseline": {"value": "middle"}}}},
                             "title": "probability density", "titleOrient": "right", "titleAngle": 90,
                             "titleFontSize": 32, "titleFontWeight": "normal", "titleColor": "black",
                             "titleAnchor": "middle", "titlePadding": 14, "titleLimit": 600}}
      }
    },
    {
      "data": {"values": [{}]},
      "mark": {"type": "rule", "color": "#808080", "strokeDash": [5.5, 2.4], "strokeWidth": 1.5},
      "encoding": {"x": {"datum": 0, "type": "quantitative"}}
    },
    {
      "data": {"values": [{}]},
      "mark": {"type": "rule", "color": "#808080", "strokeDash": [5.5, 2.4], "strokeWidth": 1.5},
      "encoding": {"y": {"datum": 0, "type": "quantitative"}}
    }
  ]
}
